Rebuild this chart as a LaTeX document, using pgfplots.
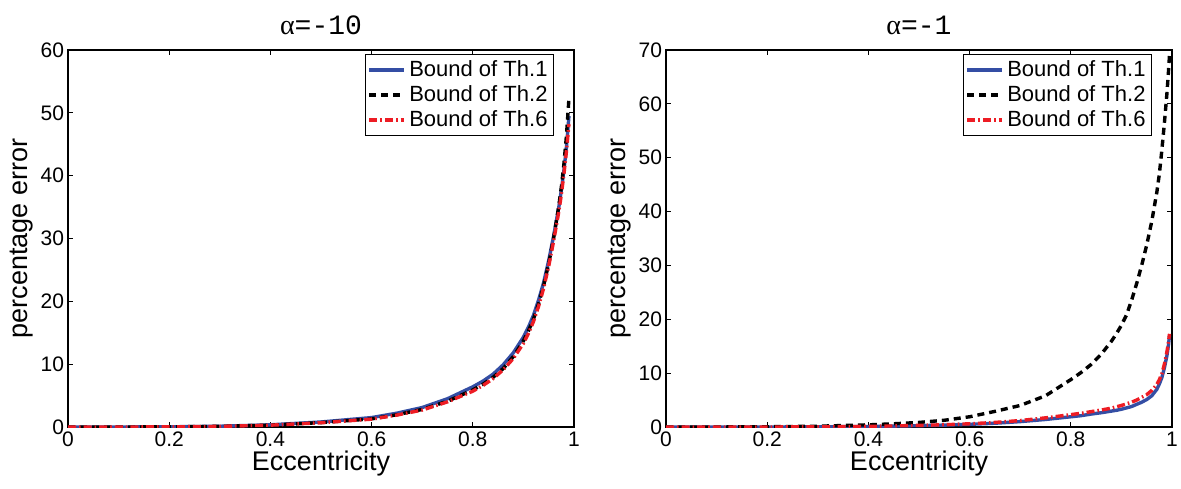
\documentclass[border=0pt]{standalone}
\usepackage{pgfplots}
\pgfplotsset{compat=1.18}
\usepackage{fontspec}
\setmainfont{Liberation Sans}
\setmonofont{Liberation Mono}
\newfontfamily\greekf{Liberation Serif}
\definecolor{mblue}{RGB}{52,78,164}
\definecolor{mred}{RGB}{237,28,36}

% alpha = -10
\pgfplotstableread{
x     b1     b2     b6
0     0      0      0
0.1   0.0    0.0    0.0
0.2   0.03   0.02   0.02
0.3   0.12   0.10   0.10
0.4   0.35   0.30   0.29
0.5   0.8    0.7    0.68
0.6   1.5    1.3    1.25
0.65  2.2    1.95   1.9
0.7   3.1    2.8    2.7
0.75  4.5    4.1    4.0
0.8   6.4    5.9    5.7
0.82  7.3    6.8    6.6
0.84  8.4    7.9    7.7
0.86  9.9    9.3    9.1
0.88  11.8   11.2   10.9
0.9   14.3   13.7   13.3
0.91  15.9   15.3   14.9
0.92  17.8   17.2   16.8
0.93  20.2   19.6   19.2
0.94  23.0   22.5   22.1
0.95  26.5   26.0   25.6
0.96  30.5   30.2   29.7
0.97  35.0   35.2   34.3
0.975 37.7   38.2   37.0
0.98  40.8   41.8   40.2
0.985 44.5   46.3   43.8
0.99  49.5   52.3   48.2
}\alphaten

% alpha = -1
\pgfplotstableread{
x     b1     b2     b6
0     0      0      0
0.1   0.0    0.0    0.0
0.2   0.0    0.05   0.0
0.3   0.03   0.15   0.04
0.4   0.1    0.4    0.12
0.45  0.17   0.6    0.2
0.5   0.25   0.85   0.3
0.55  0.35   1.25   0.42
0.6   0.5    1.9    0.6
0.65  0.7    2.9    0.85
0.7   1.0    4.0    1.2
0.75  1.4    5.8    1.7
0.8   1.9    8.8    2.3
0.82  2.1    10.1   2.55
0.84  2.4    11.6   2.85
0.86  2.65   13.5   3.15
0.88  2.95   15.9   3.5
0.89  3.1    17.3   3.75
0.9   3.3    18.9   4.0
0.91  3.55   20.8   4.3
0.92  3.8    23.5   4.6
0.93  4.2    26.6   5.0
0.94  4.6    30.0   5.5
0.95  5.1    33.8   6.0
0.96  5.8    38.2   6.8
0.97  7.0    43.6   7.9
0.975 8.0    47.0   8.8
0.98  9.2    51.5   9.9
0.985 11.0   56.5   11.7
0.99  13.3   62.0   14.0
0.993 15.2   66.0   15.8
0.995 17.0   69.0   17.3
}\alphaone

\pgfplotsset{
  mstyle/.style={
    scale only axis, width=253pt, height=188.5pt,
    xmin=0, xmax=1, ymin=0,
    xtick={0,0.2,0.4,0.6,0.8,1},
    xticklabels={0,0.2,0.4,0.6,0.8,1},
    tick pos=both, tick align=inside,
    major tick length=2.5pt,
    axis line style={line width=0.6pt},
    every tick/.style={black, line width=0.4pt},
    tick label style={font=\fontsize{10.5}{12}\selectfont},
    /pgf/number format/assume math mode=true,
    xticklabel style={yshift=1pt},
    yticklabel style={xshift=1.5pt},
    label style={font=\fontsize{13.5}{15}\selectfont},
    xlabel={Eccentricity},
    ylabel={percentage error},
    xlabel style={yshift=5pt},
    ylabel style={yshift=-3pt},
    title style={font=\fontsize{14}{16}\selectfont, yshift=-2pt},
    legend cell align=left,
    legend style={at={(1,1)}, anchor=north east, xshift=-10pt, yshift=-2pt,
      font=\fontsize{11}{12.5}\selectfont, draw=black, line width=0.5pt,
      inner sep=1pt, row sep=-1pt},
  },
  sblue/.style={mblue, line width=1.7pt},
  sblack/.style={black, line width=1.7pt, dash pattern=on 3.5pt off 2.5pt},
  sred/.style={mred, line width=1.7pt, dash pattern=on 4pt off 1.5pt on 0.8pt off 1.5pt},
}

\begin{document}
\begin{tikzpicture}
\path[use as bounding box] (-34pt,-30.5pt) rectangle (556.5pt,213.5pt);

\begin{axis}[mstyle, ymax=60, ytick={0,10,...,60},
  title={{\greekf α}\texttt{=-10}}]
\addplot[sblue] table[x=x, y=b1] {\alphaten};
\addplot[sblack] table[x=x, y=b2] {\alphaten};
\addplot[sred] table[x=x, y=b6] {\alphaten};
\legend{Bound of Th.1, Bound of Th.2, Bound of Th.6}
\end{axis}

\begin{axis}[mstyle, at={(299pt,0)}, ymax=70, ytick={0,10,...,70},
  title={{\greekf α}\texttt{=-1}}]
\addplot[sblue] table[x=x, y=b1] {\alphaone};
\addplot[sblack] table[x=x, y=b2] {\alphaone};
\addplot[sred] table[x=x, y=b6] {\alphaone};
\legend{Bound of Th.1, Bound of Th.2, Bound of Th.6}
\end{axis}
\end{tikzpicture}
\end{document}
